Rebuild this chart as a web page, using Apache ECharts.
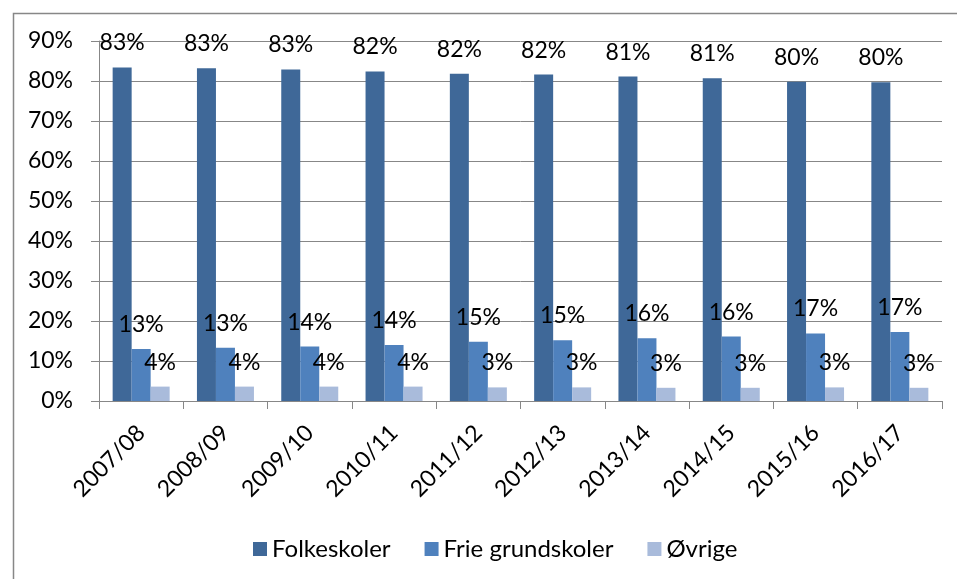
<!DOCTYPE html>
<html>
<head>
<meta charset="utf-8">
<script src="https://cdn.jsdelivr.net/npm/echarts@6/dist/echarts.min.js"></script>
<style>
html,body{margin:0;padding:0;background:#fff;}
#c{width:957px;height:579px;}
</style>
</head>
<body>
<div id="c"></div>
<script>
const categories = ['2007/08','2008/09','2009/10','2010/11','2011/12','2012/13','2013/14','2014/15','2015/16','2016/17'];
const folkeskoler = [83.4, 83.2, 82.9, 82.4, 81.8, 81.6, 81.1, 80.7, 79.8, 79.7];
const frieGrundskoler = [13.0, 13.3, 13.6, 14.0, 14.8, 15.2, 15.7, 16.1, 16.9, 17.25];
const ovrige = [3.6, 3.6, 3.6, 3.6, 3.4, 3.4, 3.3, 3.3, 3.4, 3.3];
const seriesNames = ['Folkeskoler', 'Frie grundskoler', 'Øvrige'];
const yTicks = {min: 0, max: 90, interval: 10};

const FONT = 'Lato';
const gray = '#878787';
const chart = echarts.init(document.getElementById('c'));
const lbl = {
  show: true, position: 'top', distance: 13,
  fontFamily: FONT, fontSize: 23, color: '#000',
  formatter: p => Math.round(p.value) + '%'
};
function mk(name, data, color) {
  return {
    name, type: 'bar', data, barWidth: 19, barGap: '0%',
    itemStyle: {color}, label: lbl
  };
}
chart.setOption({
  animation: false,
  backgroundColor: '#fff',
  graphic: [{
    type: 'rect', left: 11, top: 11,
    shape: {width: 1000, height: 1000},
    style: {fill: 'none', stroke: gray, lineWidth: 1.5}, silent: true, z: 100
  }],
  grid: {left: 99, right: 15, top: 41, bottom: 178, containLabel: false},
  legend: {
    left: 248, top: 532,
    itemWidth: 14, itemHeight: 14, itemGap: 34,
    icon: 'rect',
    textStyle: {fontFamily: FONT, fontSize: 24, color: '#000'},
    data: seriesNames
  },
  xAxis: {
    type: 'category', data: categories,
    axisLine: {lineStyle: {color: gray, width: 1}},
    axisTick: {show: true, length: 8, lineStyle: {color: gray}},
    axisLabel: {rotate: 45, margin: 28, fontFamily: FONT, fontSize: 23, color: '#000', interval: 0}
  },
  yAxis: {
    type: 'value', min: yTicks.min, max: yTicks.max, interval: yTicks.interval,
    axisLine: {show: true, lineStyle: {color: gray, width: 1}},
    axisTick: {show: true, length: 8, lineStyle: {color: gray}},
    splitLine: {lineStyle: {color: gray, width: 1}},
    axisLabel: {margin: 26, fontFamily: FONT, fontSize: 23, color: '#000', formatter: '{value}%'}
  },
  series: [
    mk(seriesNames[0], folkeskoler, '#3F6898'),
    mk(seriesNames[1], frieGrundskoler, '#4F81BD'),
    mk(seriesNames[2], ovrige, '#A9BBDB')
  ]
});
</script>
</body>
</html>
